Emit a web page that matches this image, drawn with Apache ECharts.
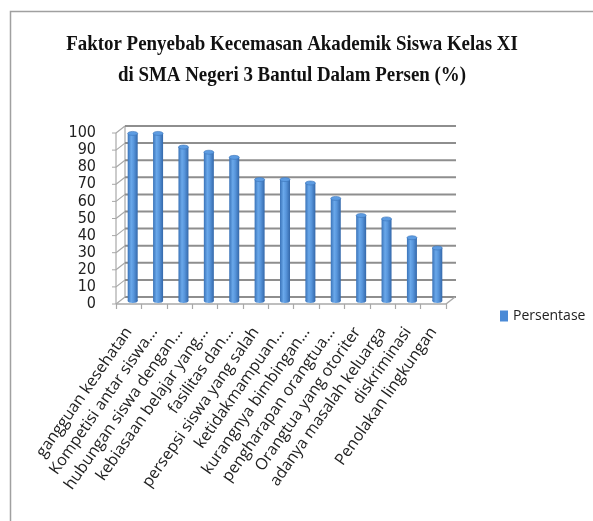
<!DOCTYPE html>
<html>
<head>
<meta charset="utf-8">
<script src="https://cdn.jsdelivr.net/npm/echarts@6/dist/echarts.min.js"></script>
<style>
html,body{margin:0;padding:0;background:#fff;}
#chart{width:593px;height:521px;}
</style>
</head>
<body>
<div id="chart"></div>
<script>
const titleLines = ['Faktor Penyebab Kecemasan Akademik Siswa Kelas XI', 'di SMA Negeri 3 Bantul Dalam Persen (%)'];
const categories = ['gangguan kesehatan', 'Kompetisi antar siswa...', 'hubungan siswa dengan...', 'kebiasaan belajar yang...', 'fasilitas dan...', 'persepsi siswa yang salah', 'ketidakmampuan...', 'kurangnya bimbingan...', 'pengharapan orangtua...', 'Orangtua yang otoriter', 'adanya masalah keluarga', 'diskriminasi', 'Penolakan lingkungan'];
const persentase = [98, 98, 90, 87, 84, 71, 71, 69, 60, 50, 48, 37, 31];
const yTicks = [0, 10, 20, 30, 40, 50, 60, 70, 80, 90, 100];
const seriesName = 'Persentase';

const DX = 9, DY = -7;       // depth offset of back wall
const BX = 4, BY = -3;       // bar depth offset
const gridColor = '#8e8e8e';
const edgeColor = '#a8a8a8';

function renderWall(params, api) {
  const v = api.value(0);
  const cs = params.coordSys;
  const p = api.coord([0, v]);
  const xf = cs.x, yf = p[1];
  const children = [
    {type: 'line', shape: {x1: xf, y1: yf, x2: xf + DX, y2: yf + DY}, style: {stroke: edgeColor, lineWidth: 1.2}},
    {type: 'line', shape: {x1: xf + DX, y1: yf + DY, x2: xf + cs.width + DX + 1, y2: yf + DY}, style: {stroke: gridColor, lineWidth: 2}},
    {type: 'line', shape: {x1: xf - 4, y1: yf, x2: xf, y2: yf}, style: {stroke: edgeColor, lineWidth: 1}}
  ];
  if (v === 0) {
    children.push(
      {type: 'line', shape: {x1: xf, y1: yf, x2: xf + cs.width, y2: yf}, style: {stroke: edgeColor, lineWidth: 1.5}},
      {type: 'line', shape: {x1: xf + cs.width, y1: yf, x2: xf + cs.width + DX, y2: yf + DY}, style: {stroke: edgeColor, lineWidth: 1.5}},
      {type: 'line', shape: {x1: xf + DX, y1: cs.y + DY, x2: xf + DX, y2: yf + DY}, style: {stroke: edgeColor, lineWidth: 1.2}},
      {type: 'line', shape: {x1: xf, y1: cs.y, x2: xf, y2: yf}, style: {stroke: edgeColor, lineWidth: 1.2}}
    );
  }
  return {type: 'group', children: children};
}

function renderBar(params, api) {
  const i = api.value(0), v = api.value(1);
  const top = api.coord([i, v]);
  const base = api.coord([i, 0]);
  const w = 10;
  const cx = top[0] + BX;
  const x = cx - w / 2;
  const yt = top[1] + BY, yb = base[1] + BY;
  const grad = new echarts.graphic.LinearGradient(0, 0, 1, 0, [
    {offset: 0, color: '#3a73b8'},
    {offset: 0.35, color: '#6aa8ea'},
    {offset: 0.6, color: '#5896dc'},
    {offset: 1, color: '#3468aa'}
  ]);
  return {type: 'group', children: [
    {type: 'ellipse', shape: {cx: cx, cy: yb, rx: w / 2, ry: 2}, style: {fill: grad}},
    {type: 'rect', shape: {x: x, y: yt, width: w, height: yb - yt}, style: {fill: grad}},
    {type: 'ellipse', shape: {cx: cx, cy: yt, rx: w / 2, ry: 2}, style: {fill: '#5d9ce2', stroke: '#3a73b8', lineWidth: 0.6}}
  ]};
}

const titleFont = {fontFamily: 'Liberation Serif', fontWeight: 'bold', fontSize: 21, fill: '#111', align: 'center', verticalAlign: 'middle'};

const chart = echarts.init(document.getElementById('chart'), null, {renderer: 'canvas'});
chart.setOption({
  animation: false,
  backgroundColor: '#fff',
  legend: {
    data: [seriesName],
    left: 495,
    top: 304,
    icon: 'rect',
    itemWidth: 8,
    itemHeight: 11,
    itemGap: 4,
    textStyle: {fontFamily: "'Open Sans', sans-serif", fontSize: 14, color: '#222'}
  },
  grid: {left: 116, top: 133, width: 330, height: 171},
  xAxis: {
    type: 'category',
    data: categories,
    boundaryGap: true,
    axisLine: {show: false},
    axisTick: {show: true, length: 5, lineStyle: {color: edgeColor, width: 1.2}},
    axisLabel: {
      rotate: 55,
      interval: 0,
      margin: 25,
      fontFamily: "'Open Sans', sans-serif",
      fontSize: 16,
      color: '#222'
    },
    splitLine: {show: false}
  },
  yAxis: {
    type: 'value',
    min: 0,
    max: 100,
    interval: 10,
    axisLine: {show: false},
    axisTick: {show: false},
    splitLine: {show: false},
    axisLabel: {
      margin: 20,
      fontFamily: "'Liberation Sans Narrow', 'DejaVu Sans Condensed', sans-serif",
      fontSize: 16,
      color: '#222'
    }
  },
  series: [
    {
      type: 'custom',
      name: '_wall',
      silent: true,
      z: 1,
      renderItem: renderWall,
      data: yTicks.map(v => [v]),
      encode: {y: 0}
    },
    {
      type: 'custom',
      name: seriesName,
      z: 5,
      itemStyle: {color: '#4a8ad6'},
      renderItem: renderBar,
      data: persentase.map((v, i) => [i, v]),
      encode: {x: 0, y: 1}
    }
  ],
  graphic: [
    {type: 'polyline', silent: true, shape: {points: [[10.5, 521], [10.5, 11.5], [593, 11.5]]}, style: {stroke: '#a0a0a0', lineWidth: 1.5, fill: null}},
    {type: 'text', silent: true, x: 292, y: 45, scaleX: 0.9, style: Object.assign({text: titleLines[0]}, titleFont)},
    {type: 'text', silent: true, x: 292, y: 76, scaleX: 0.9, style: Object.assign({text: titleLines[1]}, titleFont)}
  ]
});
</script>
</body>
</html>
